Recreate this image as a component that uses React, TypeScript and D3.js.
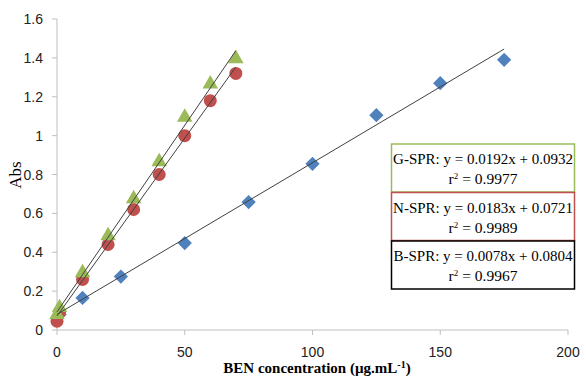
import * as d3 from 'd3';
import React, { useEffect, useRef } from 'react';

// values
const bConc = [1, 10, 25, 50, 75, 100, 125, 150, 175];
const bAbs = [0.08, 0.165, 0.275, 0.447, 0.658, 0.855, 1.105, 1.27, 1.39];
const nConc = [0, 1, 10, 20, 30, 40, 50, 60, 70];
const nAbs = [0.045, 0.09, 0.26, 0.44, 0.62, 0.8, 1.0, 1.18, 1.32];
const gConc = [0, 1, 10, 20, 30, 40, 50, 60, 70];
const gAbs = [0.075, 0.11, 0.29, 0.48, 0.67, 0.86, 1.09, 1.26, 1.39];

const yTicks = [0, 0.2, 0.4, 0.6, 0.8, 1, 1.2, 1.4, 1.6];
const xTicks = [0, 50, 100, 150, 200];

// trendlines: name, slope, intercept, r2, x range, colour
const fitNames = ['G-SPR', 'N-SPR', 'B-SPR'];
const fitSlopes = [0.0192, 0.0183, 0.0078];
const fitIntercepts = [0.0932, 0.0721, 0.0804];
const fitR2 = ['0.9977', '0.9989', '0.9967'];
const fitXmax = [70, 70, 175];
const fitColors = ['#9bbb59', '#c0504d', '#000000'];

export default () => {
    const ref = useRef<any>();

    useEffect(() => {
        const svg = d3.select<any, any>(ref.current);
        svg.selectAll('*').remove();

        const x = d3.scaleLinear().domain([0, 200]).range([57, 568]);
        const y = d3.scaleLinear().domain([0, 1.6]).range([330, 19]);
        const tickFont = '"Liberation Sans Narrow", "Liberation Sans", sans-serif';

        // axes
        svg.append('line').attr('x1', 57).attr('x2', 57).attr('y1', y(1.6)).attr('y2', y(0))
            .attr('stroke', '#bfbfbf');
        svg.append('line').attr('x1', x(0)).attr('x2', x(200)).attr('y1', 330).attr('y2', 330)
            .attr('stroke', '#bfbfbf');

        svg.selectAll('.yt').data(yTicks).join('line')
            .attr('x1', 52).attr('x2', 57)
            .attr('y1', (d) => y(d)).attr('y2', (d) => y(d))
            .attr('stroke', '#bfbfbf');
        svg.selectAll('.yl').data(yTicks).join('text')
            .attr('x', 43).attr('y', (d) => y(d) + 5)
            .attr('text-anchor', 'end')
            .attr('font-family', tickFont).attr('font-size', 14).attr('fill', '#222')
            .text((d) => String(d));

        svg.selectAll('.xt').data(xTicks).join('line')
            .attr('x1', (d) => x(d)).attr('x2', (d) => x(d))
            .attr('y1', 330).attr('y2', 335)
            .attr('stroke', '#bfbfbf');
        svg.selectAll('.xl').data(xTicks).join('text')
            .attr('x', (d) => x(d)).attr('y', 357)
            .attr('text-anchor', 'middle')
            .attr('font-family', tickFont).attr('font-size', 14).attr('fill', '#222')
            .text((d) => String(d));

        // axis titles
        svg.append('text')
            .attr('transform', 'translate(21,175) rotate(-90)')
            .attr('text-anchor', 'middle')
            .attr('font-family', '"Liberation Serif", serif').attr('font-size', 17)
            .text('Abs');
        const xt = svg.append('text')
            .attr('x', 317).attr('y', 373)
            .attr('text-anchor', 'middle')
            .attr('font-family', '"Liberation Serif", serif').attr('font-size', 15)
            .attr('font-weight', 'bold');
        xt.append('tspan').text('BEN concentration (µg.mL');
        xt.append('tspan').attr('dy', -5).attr('font-size', 10).text('-1');
        xt.append('tspan').attr('dy', 5).text(')');

        // markers
        const blue = bConc.map((c, i) => [c, bAbs[i]]);
        const red = nConc.map((c, i) => [c, nAbs[i]]);
        const green = gConc.map((c, i) => [c, gAbs[i]]);

        svg.selectAll('.b').data(blue).join('path')
            .attr('d', d3.symbol(d3.symbolDiamond2, 130) as any)
            .attr('transform', (d) => `translate(${x(d[0])},${y(d[1])})`)
            .attr('fill', '#4f81bd');
        svg.selectAll('.n').data(red).join('circle')
            .attr('cx', (d) => x(d[0])).attr('cy', (d) => y(d[1])).attr('r', 6.5)
            .attr('fill', '#c0504d');
        svg.selectAll('.g').data(green).join('path')
            .attr('d', d3.symbol(d3.symbolTriangle, 105) as any)
            .attr('transform', (d) => `translate(${x(d[0])},${y(d[1]) - 1})`)
            .attr('fill', '#9bbb59');

        // trendlines
        fitNames.forEach((n, i) => {
            svg.append('line')
                .attr('x1', x(0)).attr('y1', y(fitIntercepts[i]))
                .attr('x2', x(fitXmax[i])).attr('y2', y(fitIntercepts[i] + fitSlopes[i] * fitXmax[i]))
                .attr('stroke', '#404040').attr('stroke-width', 1);
        });

        // equation boxes
        fitNames.forEach((n, i) => {
            const top = 144 + i * 48.5;
            svg.append('rect')
                .attr('x', 391.5).attr('y', top).attr('width', 183).attr('height', 48)
                .attr('fill', 'white').attr('stroke', fitColors[i]).attr('stroke-width', 1.5);
            svg.append('text')
                .attr('x', 483).attr('y', top + 20)
                .attr('text-anchor', 'middle')
                .attr('font-family', '"Liberation Serif", serif').attr('font-size', 15)
                .text(`${n}: y = ${fitSlopes[i]}x + ${fitIntercepts[i]}`);
            const r = svg.append('text')
                .attr('x', 483).attr('y', top + 40)
                .attr('text-anchor', 'middle')
                .attr('font-family', '"Liberation Serif", serif').attr('font-size', 15.5);
            r.append('tspan').text('r');
            r.append('tspan').attr('dy', -5).attr('font-size', 9).text('2');
            r.append('tspan').attr('dy', 5).text(` = ${fitR2[i]}`);
        });
    });

    return (
        <svg ref={ref} width={582} height={376}
            style={{ position: 'absolute', left: 0, top: 0, background: 'white' }}></svg>
    );
};
